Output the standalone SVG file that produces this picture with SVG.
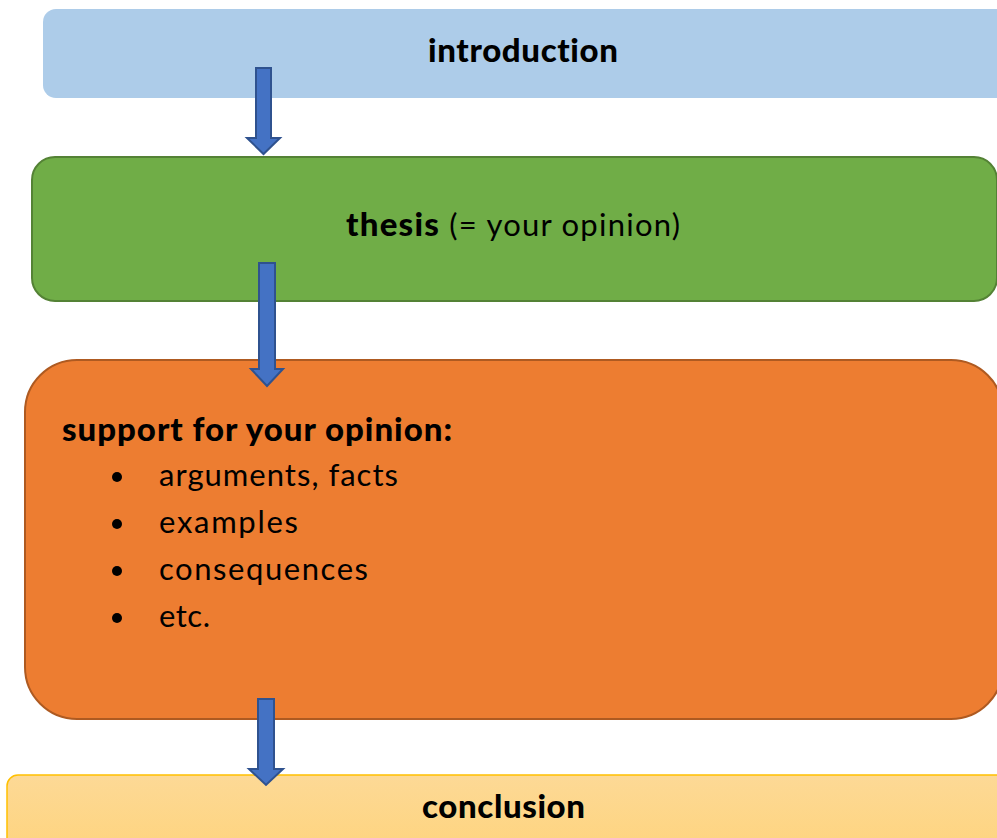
<svg xmlns="http://www.w3.org/2000/svg" width="997" height="838" viewBox="0 0 997 838">
<defs>
<linearGradient id="gC" x1="0" y1="0" x2="0" y2="1">
<stop offset="0" stop-color="#FDD996"/>
<stop offset="1" stop-color="#FED47D"/>
</linearGradient>
<style>
text{font-family:Lato,"Open Sans","Liberation Sans",sans-serif;fill:#000;font-variant-ligatures:none;}
.b{font-weight:900;}
.t{font-size:31px;}
.hb{font-size:33px;font-weight:900;}
.arrow{fill:#4472C4;stroke:#2F528F;stroke-width:2;stroke-linejoin:miter;}
</style>
</defs>
<rect width="997" height="838" fill="#fff"/>
<g id="introduction">
<rect x="43" y="9" width="966" height="89" rx="13" fill="#ADCCE9"/>
<text class="hb" x="428" y="62" textLength="190">introduction</text>
</g>
<g id="thesis">
<rect x="32" y="157" width="965" height="144" rx="23" fill="#70AD47" stroke="#548235" stroke-width="2"/>
<text class="t" x="346" y="236" textLength="334"><tspan class="b" font-size="33">thesis</tspan> (= your opinion)</text>
</g>
<g id="support">
<rect x="25" y="360" width="978" height="359" rx="52" fill="#ED7D31" stroke="#AE5A21" stroke-width="2"/>
<text class="hb" x="62" y="441" textLength="390">support for your opinion:</text>
<circle cx="117" cy="477" r="5"/>
<text class="t" x="159" y="486" textLength="239">arguments, facts</text>
<circle cx="117" cy="524" r="5"/>
<text class="t" x="159" y="533" textLength="139">examples</text>
<circle cx="117" cy="571" r="5"/>
<text class="t" x="159" y="580" textLength="209">consequences</text>
<circle cx="117" cy="618" r="5"/>
<text class="t" x="159" y="627" textLength="51">etc.</text>
</g>
<g id="conclusion">
<rect x="7" y="775" width="1000" height="80" rx="11" fill="url(#gC)" stroke="#FFC000" stroke-width="1.5"/>
<text class="hb" x="422" y="818" textLength="163">conclusion</text>
</g>
<g id="connectors">
<polygon class="arrow" points="256,68 271,68 271,138 280,138 263.5,154 247,138 256,138"/>
<polygon class="arrow" points="259,263 275,263 275,369 283,369 267,386 251,369 259,369"/>
<polygon class="arrow" points="258,699 274,699 274,769 283,769 266,785 249,769 258,769"/>
</g>
</svg>
